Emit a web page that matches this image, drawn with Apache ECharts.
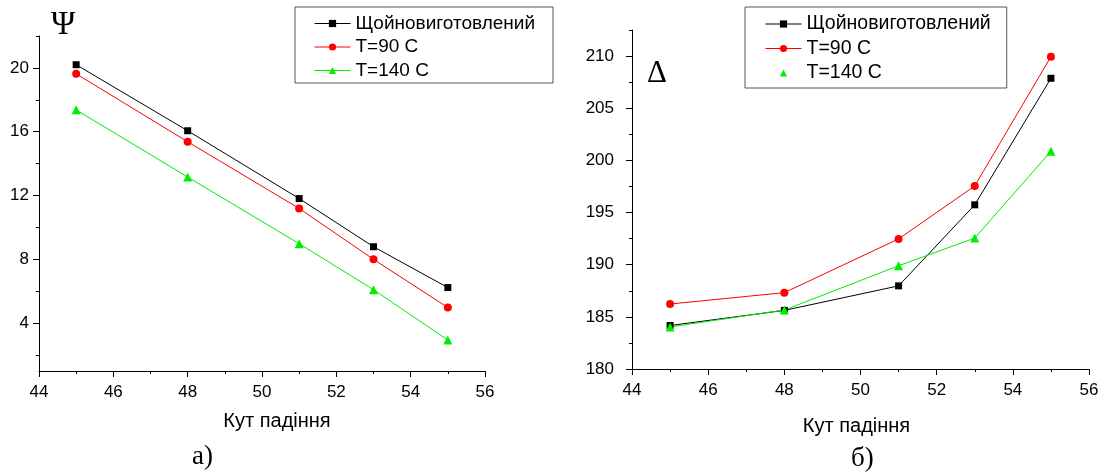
<!DOCTYPE html>
<html>
<head>
<meta charset="utf-8">
<script src="https://cdn.jsdelivr.net/npm/echarts@6/dist/echarts.min.js"></script>
<style>
html,body{margin:0;padding:0;background:#fff;}
#c{width:1106px;height:475px;}
</style>
</head>
<body>
<div id="c"></div>
<script>
// ---- data ----
const angles = [45, 48, 51, 53, 55];
const seriesNames = ['Щойновиготовлений', 'T=90 C', 'T=140 C'];
const psiFresh = [20.2, 16.06, 11.81, 8.79, 6.23];
const psi90 = [19.63, 15.37, 11.19, 8.0, 4.98];
const psi140 = [17.37, 13.16, 8.98, 6.1, 2.94];
const deltaFresh = [184.17, 185.62, 187.97, 195.74, 207.87];
const delta90 = [186.23, 187.32, 192.47, 197.55, 209.94];
const delta140 = [184.03, 185.65, 189.9, 192.55, 200.87];
const psiMajorTicks = [4, 8, 12, 16, 20];
const psiMinorTicks = [2, 6, 10, 14, 18, 22];
const deltaMajorTicks = [180, 185, 190, 195, 200, 205, 210];
const deltaMinorTicks = [182.5, 187.5, 192.5, 197.5, 202.5, 207.5, 212.5];
const xAxisTitle = 'Кут падіння';

function pairs(ys) { return angles.map((x, i) => [x, ys[i]]); }

const colors = ['#000000', '#ff0000', '#00ee00'];
const symbols = ['rect', 'circle', 'triangle'];
const symbolSizes = [7, 8, 9];
const font = 'Liberation Sans, Arial, sans-serif';
const serif = 'Liberation Serif, Times New Roman, serif';

function xAxisDef(gridIndex, gap, pad) {
  return {
    type: 'value', gridIndex, min: 44, max: 56, interval: 2,
    name: xAxisTitle, nameLocation: 'middle', nameGap: gap,
    nameTextStyle: { fontFamily: font, fontSize: 20, color: '#000', padding: pad },
    axisLine: { show: true, lineStyle: { color: '#000', width: 1 } },
    axisTick: { show: true, length: 6, inside: false, lineStyle: { color: '#000' } },
    minorTick: { show: true, splitNumber: 2, length: 3, lineStyle: { color: '#000' } },
    axisLabel: { fontFamily: font, fontSize: 17, color: '#000', margin: 13 },
    splitLine: { show: false }, minorSplitLine: { show: false }
  };
}
function yAxisMajor(gridIndex, min, max, ticks, margin) {
  return {
    type: 'value', gridIndex, min, max, position: 'left',
    axisLine: { show: true, lineStyle: { color: '#000', width: 1 } },
    axisTick: { show: true, length: 6, customValues: ticks, lineStyle: { color: '#000' } },
    axisLabel: { fontFamily: font, fontSize: 17, color: '#000', margin: margin, customValues: ticks },
    splitLine: { show: false }
  };
}
function yAxisMinor(gridIndex, min, max, ticks) {
  return {
    type: 'value', gridIndex, min, max, position: 'left',
    axisLine: { show: false },
    axisTick: { show: true, length: 3, customValues: ticks, lineStyle: { color: '#000' } },
    axisLabel: { show: false },
    splitLine: { show: false }
  };
}
function lineSeries(name, idx, data, xi, yi) {
  return {
    type: 'line', name, data: pairs(data), xAxisIndex: xi, yAxisIndex: yi,
    symbol: symbols[idx], symbolSize: symbolSizes[idx], showSymbol: true,
    lineStyle: { color: colors[idx], width: 1 },
    itemStyle: { color: colors[idx] },
    animation: false
  };
}
function legendDef(left, hideLine, padding, fontSize, gap) {
  return {
    show: true, orient: 'vertical', left: left, top: 7,
    borderColor: '#555', borderWidth: 1, padding: padding,
    itemWidth: 36, itemHeight: 9, itemGap: gap,
    lineStyle: { width: 1 },
    textStyle: { fontFamily: font, fontSize: fontSize, color: '#000' },
    data: seriesNames.map((n, i) => {
      const d = { name: n, lineStyle: { width: 1 } };
      if (hideLine && i === 2) d.lineStyle = { width: 1, opacity: 0 };
      return d;
    })
  };
}

const chart = echarts.init(document.getElementById('c'), null, { renderer: 'canvas' });
chart.setOption({
  backgroundColor: '#fff',
  animation: false,
  grid: [
    { left: 39, top: 36, width: 446, height: 335 },
    { left: 632, top: 30, width: 457, height: 339 }
  ],
  xAxis: [xAxisDef(0, 40, [0, 0, 0, 30]), xAxisDef(1, 47, [0, 8, 0, 0])],
  yAxis: [
    yAxisMajor(0, 1, 22, psiMajorTicks, 10),
    yAxisMinor(0, 1, 22, psiMinorTicks),
    yAxisMajor(1, 180, 212.5, deltaMajorTicks, 18),
    yAxisMinor(1, 180, 212.5, deltaMinorTicks)
  ],
  legend: [
    legendDef(295, false, [7, 18, 3, 19], 19, 4.5),
    legendDef(745, true, [7, 16, 5, 20], 19.5, 4.5)
  ],
  series: [
    lineSeries(seriesNames[0], 0, psiFresh, 0, 0),
    lineSeries(seriesNames[1], 1, psi90, 0, 0),
    lineSeries(seriesNames[2], 2, psi140, 0, 0),
    lineSeries(seriesNames[0], 0, deltaFresh, 1, 2),
    lineSeries(seriesNames[1], 1, delta90, 1, 2),
    lineSeries(seriesNames[2], 2, delta140, 1, 2)
  ],
  graphic: [
    { type: 'text', left: 51, top: 9, style: { text: 'Ψ', font: '33px ' + serif, fill: '#000' } },
    { type: 'text', left: 647, top: 58, style: { text: 'Δ', font: '31px ' + serif, fill: '#000' } },
    { type: 'text', left: 192, top: 443, style: { text: 'а)', font: '27px ' + serif, fill: '#000' } },
    { type: 'text', left: 851, top: 445, style: { text: 'б)', font: '27px ' + serif, fill: '#000' } }
  ]
});
</script>
</body>
</html>
